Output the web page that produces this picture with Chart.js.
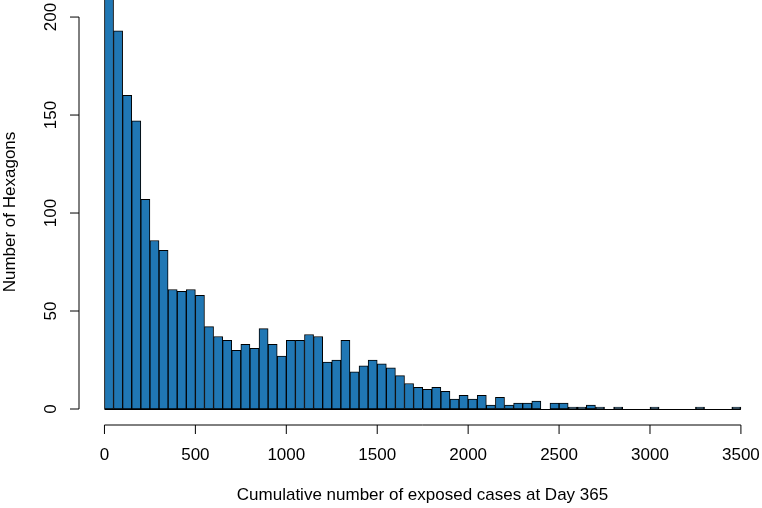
<!DOCTYPE html>
<html>
<head>
<meta charset="utf-8">
<script src="https://cdn.jsdelivr.net/npm/chart.js@4.4.1/dist/chart.umd.min.js"></script>
<style>
  html, body { margin: 0; padding: 0; background: #fff; }
  canvas { display: block; }
</style>
</head>
<body>
<canvas id="hist" width="762" height="508"></canvas>
<script>
// histogram: bins of 50 from 0 to 3500
var binWidth = 50;
var binStart = 0;
var counts = [
  235, 193, 160, 147, 107, 86, 81, 61, 60, 61,
  58, 42, 37, 35, 30, 33, 31, 41, 33, 27,
  35, 35, 38, 37, 24, 25, 35, 19, 22, 25,
  23, 21, 17, 13, 11, 10, 11, 9, 5, 7,
  5, 7, 2, 6, 2, 3, 3, 4, 0, 3,
  3, 1, 1, 2, 1, 0, 1, 0, 0, 0,
  1, 0, 0, 0, 0, 1, 0, 0, 0, 1
];
var xTicks = [0, 500, 1000, 1500, 2000, 2500, 3000, 3500];
var yTicks = [0, 50, 100, 150, 200];
var xTitle = "Cumulative number of exposed cases at Day 365";
var yTitle = "Number of Hexagons";

var points = counts.map(function (c, i) {
  return { x: binStart + binWidth * (i + 0.5), y: c };
});

var FONT = '17px "Liberation Sans", Arial, sans-serif';

// R style axes, drawn from the chart's own scales
var rAxes = {
  id: "rAxes",
  afterDraw: function (chart) {
    var c = chart.ctx;
    var xs = chart.scales.x;
    var ys = chart.scales.y;
    var x0 = xs.getPixelForValue(xTicks[0]);
    var x1 = xs.getPixelForValue(xTicks[xTicks.length - 1]);
    var yb = ys.getPixelForValue(0);
    c.save();
    c.strokeStyle = "#000";
    c.lineWidth = 1;

    // baseline under the bars (zero-count bins)
    c.beginPath();
    c.moveTo(x0, Math.round(yb) + 0.5);
    c.lineTo(x1, Math.round(yb) + 0.5);
    c.stroke();

    // x axis
    var ax = 425;
    c.beginPath();
    c.moveTo(x0, ax);
    c.lineTo(x1, ax);
    xTicks.forEach(function (t) {
      var px = xs.getPixelForValue(t);
      c.moveTo(px, ax);
      c.lineTo(px, ax + 9);
    });
    c.stroke();
    c.fillStyle = "#000";
    c.font = FONT;
    c.textAlign = "center";
    c.textBaseline = "middle";
    xTicks.forEach(function (t) {
      c.fillText(String(t), xs.getPixelForValue(t), 455);
    });
    c.fillText(xTitle, (chart.chartArea.left + 766) / 2, 495);

    // y axis
    var ay = chart.chartArea.left;
    c.beginPath();
    c.moveTo(ay, ys.getPixelForValue(yTicks[0]));
    c.lineTo(ay, ys.getPixelForValue(yTicks[yTicks.length - 1]));
    yTicks.forEach(function (t) {
      var py = ys.getPixelForValue(t);
      c.moveTo(ay, py);
      c.lineTo(ay - 9, py);
    });
    c.stroke();
    yTicks.forEach(function (t) {
      c.save();
      c.translate(51, ys.getPixelForValue(t));
      c.rotate(-Math.PI / 2);
      c.fillText(String(t), 0, 0);
      c.restore();
    });
    c.save();
    c.translate(10, 212);
    c.rotate(-Math.PI / 2);
    c.fillText(yTitle, 0, 0);
    c.restore();
    c.restore();
  }
};

new Chart(document.getElementById("hist").getContext("2d"), {
  type: "bar",
  data: {
    datasets: [
      {
        label: yTitle,
        data: points,
        backgroundColor: "#2077b4",
        borderColor: "#000",
        borderWidth: 1,
        borderSkipped: false,
        barPercentage: 1,
        categoryPercentage: 1
      }
    ]
  },
  options: {
    responsive: false,
    animation: false,
    layout: { padding: { left: 79, right: 10, top: 0, bottom: 99 } },
    plugins: { legend: { display: false }, tooltip: { enabled: false } },
    scales: {
      x: { type: "linear", min: -140, max: 3561, offset: false, display: false },
      y: { min: 0, max: 208.7, display: false }
    }
  },
  plugins: [rAxes]
});
</script>
</body>
</html>
